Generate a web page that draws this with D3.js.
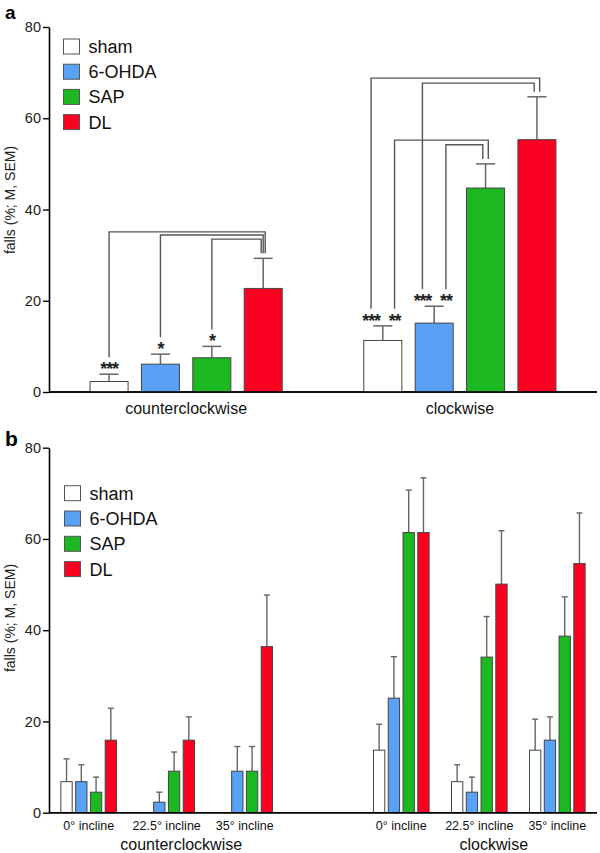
<!DOCTYPE html>
<html><head><meta charset="utf-8">
<script src="https://cdn.jsdelivr.net/npm/d3@7"></script>
<style>
html,body{margin:0;padding:0;background:#fff;}
svg{display:block;font-family:"Liberation Sans",Arial,Helvetica,sans-serif;}
</style></head>
<body>
<svg id="chart" width="600" height="853"></svg>
<script>
// ---- data ----
const groups = ["sham", "6-OHDA", "SAP", "DL"];
const groupColors = ["#ffffff", "#58a1f5", "#1cb821", "#fc0021"];
const directions = ["counterclockwise", "clockwise"];
const inclines = ["0° incline", "22.5° incline", "35° incline"];
const yTicks = [0, 20, 40, 60, 80];

// panel a: mean and SEM per direction
const aCcwMean = [2.3, 6.1, 7.5, 22.7];
const aCcwSem  = [1.6, 2.2, 2.5, 6.6];
const aCwMean  = [11.3, 15.1, 44.7, 55.3];
const aCwSem   = [3.2, 3.7, 5.3, 9.4];

// significance brackets (level in % units)
const aBrackets = [
  {dir: "counterclockwise", from: "sham",   to: "DL",  level: 35.1, label: "***"},
  {dir: "counterclockwise", from: "6-OHDA", to: "DL",  level: 34.4, label: "*"},
  {dir: "counterclockwise", from: "SAP",    to: "DL",  level: 33.5, label: "*"},
  {dir: "clockwise",        from: "sham",   to: "DL",  level: 68.8, label: "***"},
  {dir: "clockwise",        from: "6-OHDA", to: "DL",  level: 67.7, label: "***"},
  {dir: "clockwise",        from: "sham",   to: "SAP", level: 55.2, label: "**"},
  {dir: "clockwise",        from: "6-OHDA", to: "SAP", level: 54.2, label: "**"}
];

// panel b: mean and SEM per direction x incline
const bCcw0Mean  = [6.8, 6.8, 4.5, 15.9];
const bCcw0Sem   = [5.0, 3.7, 3.3, 7.0];
const bCcw22Mean = [0, 2.3, 9.1, 15.9];
const bCcw22Sem  = [0, 2.2, 4.2, 5.1];
const bCcw35Mean = [0, 9.1, 9.1, 36.4];
const bCcw35Sem  = [0, 5.4, 5.4, 11.3];
const bCw0Mean   = [13.7, 25.1, 61.4, 61.4];
const bCw0Sem    = [5.7, 9.1, 9.3, 12.0];
const bCw22Mean  = [6.8, 4.5, 34.1, 50.1];
const bCw22Sem   = [3.7, 3.3, 8.9, 11.7];
const bCw35Mean  = [13.7, 15.9, 38.7, 54.6];
const bCw35Sem   = [6.8, 5.1, 8.6, 11.1];

// ---- build tables ----
const aData = [];
[[aCcwMean, aCcwSem], [aCwMean, aCwSem]].forEach((p, di) => {
  groups.forEach((g, gi) => aData.push({dir: directions[di], group: g, gi, mean: p[0][gi], sem: p[1][gi]}));
});
const bData = [];
const bSets = [
  [[bCcw0Mean, bCcw0Sem], [bCcw22Mean, bCcw22Sem], [bCcw35Mean, bCcw35Sem]],
  [[bCw0Mean, bCw0Sem], [bCw22Mean, bCw22Sem], [bCw35Mean, bCw35Sem]]
];
bSets.forEach((dirSet, di) => dirSet.forEach((p, ii) => groups.forEach((g, gi) =>
  bData.push({dir: directions[di], incline: inclines[ii], group: g, gi, mean: p[0][gi], sem: p[1][gi]}))));

const svg = d3.select("#chart");
const color = d3.scaleOrdinal().domain(groups).range(groupColors);
const FONT = '"Liberation Sans",Arial,Helvetica,sans-serif';
const xLeft = 49, xRight = 597;

function drawYAxis(g, y) {
  const ax = g.append("g").attr("transform", `translate(${xLeft},0)`)
    .call(d3.axisLeft(y).tickValues(yTicks).tickSize(6).tickSizeOuter(0).tickPadding(2));
  ax.select(".domain").attr("stroke", "#000").attr("stroke-width", 1.6);
  ax.selectAll(".tick line").attr("stroke", "#000").attr("stroke-width", 1.4);
  ax.selectAll(".tick text").attr("font-size", 14.5).attr("font-family", FONT).attr("fill", "#222");
  g.append("line").attr("x1", xLeft).attr("x2", xRight).attr("y1", y(0)).attr("y2", y(0))
    .attr("stroke", "#000").attr("stroke-width", 1.6);
}
function drawLegend(g, x0, y0, step) {
  groups.forEach((d, i) => {
    g.append("rect").attr("x", x0).attr("y", y0 + i * step - 7.5).attr("width", 16).attr("height", 15)
      .attr("fill", color(d)).attr("stroke", "#555").attr("stroke-width", 1);
    g.append("text").attr("x", x0 + 25).attr("y", y0 + i * step + 6.5).attr("font-size", 18)
      .attr("fill", "#111").text(d);
  });
}
function yLabel(g, cy) {
  g.append("text").attr("transform", `translate(15,${cy}) rotate(-90)`).attr("text-anchor", "middle")
    .attr("font-size", 14).attr("fill", "#222").text("falls (%; M, SEM)");
}

// ================= panel a =================
const ga = svg.append("g");
const yA = d3.scaleLinear().domain([0, 80]).range([392, 27]);
const xA = d3.scaleBand().domain(directions).range([xLeft, xRight]).paddingInner(0.298).paddingOuter(0.15);
const xAin = d3.scaleBand().domain(groups).range([0, xA.bandwidth()]).paddingInner(0.26).paddingOuter(0);
const cxA = d => xA(d.dir) + xAin(d.group) + xAin.bandwidth() / 2;

ga.append("text").attr("x", 5).attr("y", 19).attr("font-size", 19).attr("font-weight", "bold").text("a");
drawYAxis(ga, yA);
yLabel(ga, 200);

// error bars
const ebA = ga.append("g").attr("stroke", "#666").attr("stroke-width", 1.5);
aData.forEach(d => {
  ebA.append("line").attr("x1", cxA(d)).attr("x2", cxA(d)).attr("y1", yA(d.mean)).attr("y2", yA(d.mean + d.sem));
  ebA.append("line").attr("x1", cxA(d) - 9.5).attr("x2", cxA(d) + 9.5).attr("y1", yA(d.mean + d.sem)).attr("y2", yA(d.mean + d.sem));
});
// bars
ga.append("g").selectAll("rect").data(aData).join("rect")
  .attr("x", d => xA(d.dir) + xAin(d.group)).attr("width", xAin.bandwidth())
  .attr("y", d => yA(d.mean)).attr("height", d => yA(0) - yA(d.mean))
  .attr("fill", d => color(d.group)).attr("stroke", "#444").attr("stroke-width", 1);
// redraw baseline on top
ga.append("line").attr("x1", xLeft).attr("x2", xRight).attr("y1", yA(0)).attr("y2", yA(0))
  .attr("stroke", "#000").attr("stroke-width", 1.6);

// brackets
const findA = (dir, g) => aData.find(d => d.dir === dir && d.group === g);
const bg = ga.append("g");
aBrackets.forEach(b => {
  const src = findA(b.dir, b.from), tgt = findA(b.dir, b.to);
  const sameSrc = aBrackets.filter(o => o.dir === b.dir && o.from === b.from)
    .sort((p, q) => groups.indexOf(q.to) - groups.indexOf(p.to));
  const si = sameSrc.indexOf(b), sn = sameSrc.length;
  const sx = cxA(src) + (si - (sn - 1) / 2) * 23.5;
  const sameTgt = aBrackets.filter(o => o.dir === b.dir && o.to === b.to)
    .sort((p, q) => groups.indexOf(q.from) - groups.indexOf(p.from));
  const ti = sameTgt.indexOf(b), tn = sameTgt.length;
  const tsp = tn > 2 ? 2 : 5.5;
  const tx = cxA(tgt) + (ti - (tn - 1) / 2) * tsp;
  const yl = yA(b.level);
  const ySrcEnd = yA(src.mean + src.sem) - 17;
  const yTgtEnd = yA(tgt.mean + tgt.sem) - 5;
  bg.append("path").attr("d", `M${sx},${ySrcEnd}V${yl}H${tx}V${yTgtEnd}`)
    .attr("fill", "none").attr("stroke", "#555").attr("stroke-width", 1.4);
  bg.append("text").attr("x", sx).attr("y", yA(src.mean + src.sem) + 1).attr("text-anchor", "middle")
    .attr("font-size", 18).attr("font-weight", "bold").attr("letter-spacing", -1.2)
    .attr("fill", "#222").text(b.label);
});

// x category labels
ga.append("g").selectAll("text").data(directions).join("text")
  .attr("x", d => xA(d) + xA.bandwidth() / 2).attr("y", 414).attr("text-anchor", "middle")
  .attr("font-size", 16).attr("fill", "#111").text(d => d);

drawLegend(ga, 63.5, 46.5, 25.2);

// ================= panel b =================
const gb = svg.append("g");
const yB = d3.scaleLinear().domain([0, 80]).range([812.7, 447.7]);
const xB = d3.scaleBand().domain(directions).range([xLeft, xRight]).paddingInner(0.323).paddingOuter(0.038);
const xBinc = d3.scaleBand().domain(inclines).range([0, xB.bandwidth()]).paddingInner(0.287).paddingOuter(0);
const xBbar = d3.scaleBand().domain(groups).range([0, xBinc.bandwidth()]).paddingInner(0.235).paddingOuter(0);
const bx = d => xB(d.dir) + xBinc(d.incline) + xBbar(d.group);
const cxB = d => bx(d) + xBbar.bandwidth() / 2;

gb.append("text").attr("x", 5).attr("y", 446).attr("font-size", 21).attr("font-weight", "bold").text("b");
drawYAxis(gb, yB);
yLabel(gb, 618);

const shown = bData.filter(d => d.mean > 0);
const ebB = gb.append("g").attr("stroke", "#666").attr("stroke-width", 1.4);
shown.forEach(d => {
  ebB.append("line").attr("x1", cxB(d)).attr("x2", cxB(d)).attr("y1", yB(d.mean)).attr("y2", yB(d.mean + d.sem));
  ebB.append("line").attr("x1", cxB(d) - 3).attr("x2", cxB(d) + 3).attr("y1", yB(d.mean + d.sem)).attr("y2", yB(d.mean + d.sem));
});
gb.append("g").selectAll("rect").data(shown).join("rect")
  .attr("x", bx).attr("width", xBbar.bandwidth())
  .attr("y", d => yB(d.mean)).attr("height", d => yB(0) - yB(d.mean))
  .attr("fill", d => color(d.group)).attr("stroke", "#444").attr("stroke-width", 1);
gb.append("line").attr("x1", xLeft).attr("x2", xRight).attr("y1", yB(0)).attr("y2", yB(0))
  .attr("stroke", "#000").attr("stroke-width", 1.6);

// incline labels
const incLabels = [];
directions.forEach(dir => inclines.forEach(inc => incLabels.push({dir, inc})));
gb.append("g").selectAll("text").data(incLabels).join("text")
  .attr("x", d => xB(d.dir) + xBinc(d.inc) + xBinc.bandwidth() / 2).attr("y", 829.5)
  .attr("text-anchor", "middle").attr("font-size", 12.5).attr("fill", "#111").text(d => d.inc);
gb.append("g").selectAll("text").data(directions).join("text")
  .attr("x", d => xB(d) + xB.bandwidth() / 2 + 14.5).attr("y", 850)
  .attr("text-anchor", "middle").attr("font-size", 16).attr("fill", "#111").text(d => d);

drawLegend(gb, 64.5, 493.2, 25.3);
</script>
</body></html>
